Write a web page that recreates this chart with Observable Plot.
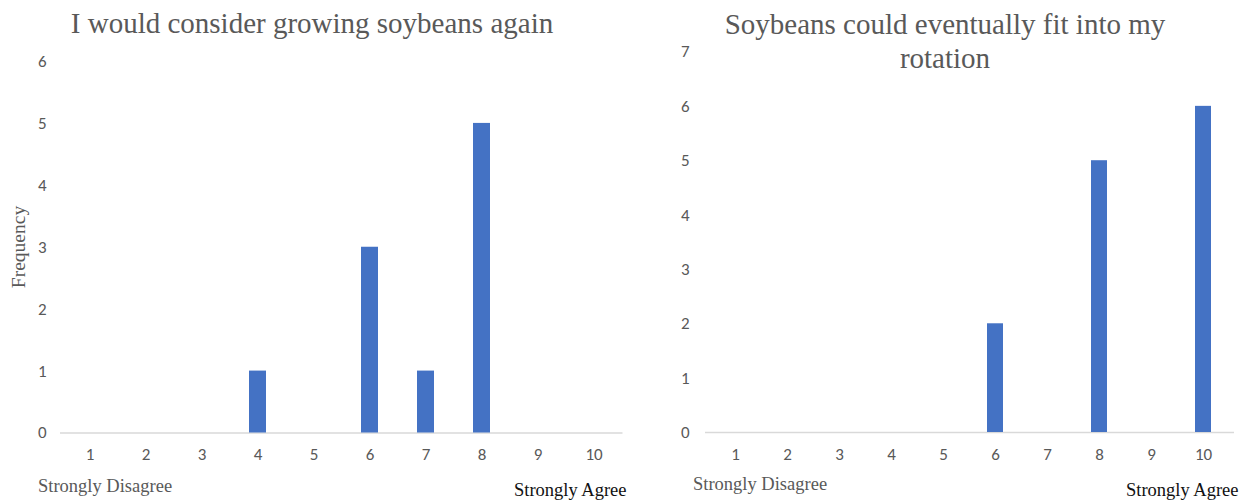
<!DOCTYPE html>
<html>
<head>
<meta charset="utf-8">
<script src="https://cdn.jsdelivr.net/npm/d3@7"></script>
<script src="https://cdn.jsdelivr.net/npm/@observablehq/plot@0.6"></script>
<style>
  html, body { margin: 0; padding: 0; background: #fff; }
  #chart { position: relative; width: 1245px; height: 500px; overflow: hidden; }
  #chart svg { position: absolute; top: 0; }
  .title, .end, .ylab {
    position: absolute; font-family: "Liberation Serif", "Times New Roman", serif;
    color: #595959; white-space: nowrap;
  }
  .title { font-size: 29px; line-height: 34px; text-align: center; }
  .end { font-size: 18.5px; line-height: 20px; }
  .ylab { font-size: 19.5px; transform: translate(-50%, -50%) rotate(-90deg); }
</style>
</head>
<body>
<div id="chart"></div>
<script>
// Likert scale categories (1 = strongly disagree, 10 = strongly agree)
const scores = [1, 2, 3, 4, 5, 6, 7, 8, 9, 10];

// Frequency of responses for each statement
const growAgain = [0, 0, 0, 1, 0, 3, 1, 5, 0, 0];
const fitRotation = [0, 0, 0, 0, 0, 2, 0, 5, 0, 6];

// Y-axis tick values
const growTicks = [0, 1, 2, 3, 4, 5, 6];
const rotationTicks = [0, 1, 2, 3, 4, 5, 6, 7];

const titles = ["I would consider growing soybeans again", "Soybeans could eventually fit into my rotation"];
const yLabel = "Frequency";
const endLabels = ["Strongly Disagree", "Strongly Agree"];

const BAR = "#4472C4";
const TICK_FONT = "Carlito, 'Liberation Sans Narrow', 'DejaVu Sans Condensed', Roboto, sans-serif";

function histogram(values, ticks, opts) {
  const rows = scores.map((s, i) => ({score: s, count: values[i]}));
  return Plot.plot({
    width: opts.width,
    height: 500,
    marginLeft: opts.marginLeft,
    marginRight: opts.marginRight,
    marginTop: opts.marginTop,
    marginBottom: opts.marginBottom,
    style: {fontFamily: TICK_FONT, fontSize: "17px", color: "#595959", background: "transparent", overflow: "visible"},
    x: {type: "band", domain: scores, paddingInner: 0.69, paddingOuter: 0.345, label: null},
    y: {domain: [0, ticks[ticks.length - 1]], label: null},
    marks: [
      Plot.ruleY([0], {stroke: "#d9d9d9", strokeWidth: 1.5}),
      Plot.barY(rows.filter(d => d.count > 0), {x: "score", y: "count", fill: BAR}),
      Plot.axisX({tickSize: 0, tickPadding: 15, fontSize: 17, fill: "#595959"}),
      Plot.axisY({ticks, tickSize: 0, tickPadding: opts.tickPadding, tickFormat: d => String(d), fontSize: 17, fill: "#595959"})
    ]
  });
}

const chart = document.getElementById("chart");

const left = histogram(growAgain, growTicks, {width: 640, marginLeft: 60, marginRight: 17.5, marginTop: 61, marginBottom: 67.5, tickPadding: 14});
left.style.left = "0px";
chart.appendChild(left);

const right = histogram(fitRotation, rotationTicks, {width: 605, marginLeft: 65, marginRight: 11, marginTop: 51.5, marginBottom: 68, tickPadding: 16});
right.style.left = "640px";
chart.appendChild(right);

function addText(cls, text, css) {
  const el = document.createElement("div");
  el.className = cls;
  el.innerHTML = text;
  Object.assign(el.style, css);
  chart.appendChild(el);
  return el;
}

// Panel titles
addText("title", titles[0], {left: "312px", top: "6px", transform: "translateX(-50%)"});
addText("title", "Soybeans could eventually fit into my<br>rotation", {left: "945px", top: "7px", transform: "translateX(-50%)"});

// Shared y-axis label on the left panel
addText("ylab", yLabel, {left: "19px", top: "247px"});

// Scale end descriptors
addText("end", endLabels[0], {left: "38px", top: "476px"});
addText("end", endLabels[1], {left: "514px", top: "480px", color: "#111"});
addText("end", endLabels[0], {left: "693px", top: "474px"});
addText("end", endLabels[1], {left: "1126px", top: "480px", color: "#111"});
</script>
</body>
</html>
